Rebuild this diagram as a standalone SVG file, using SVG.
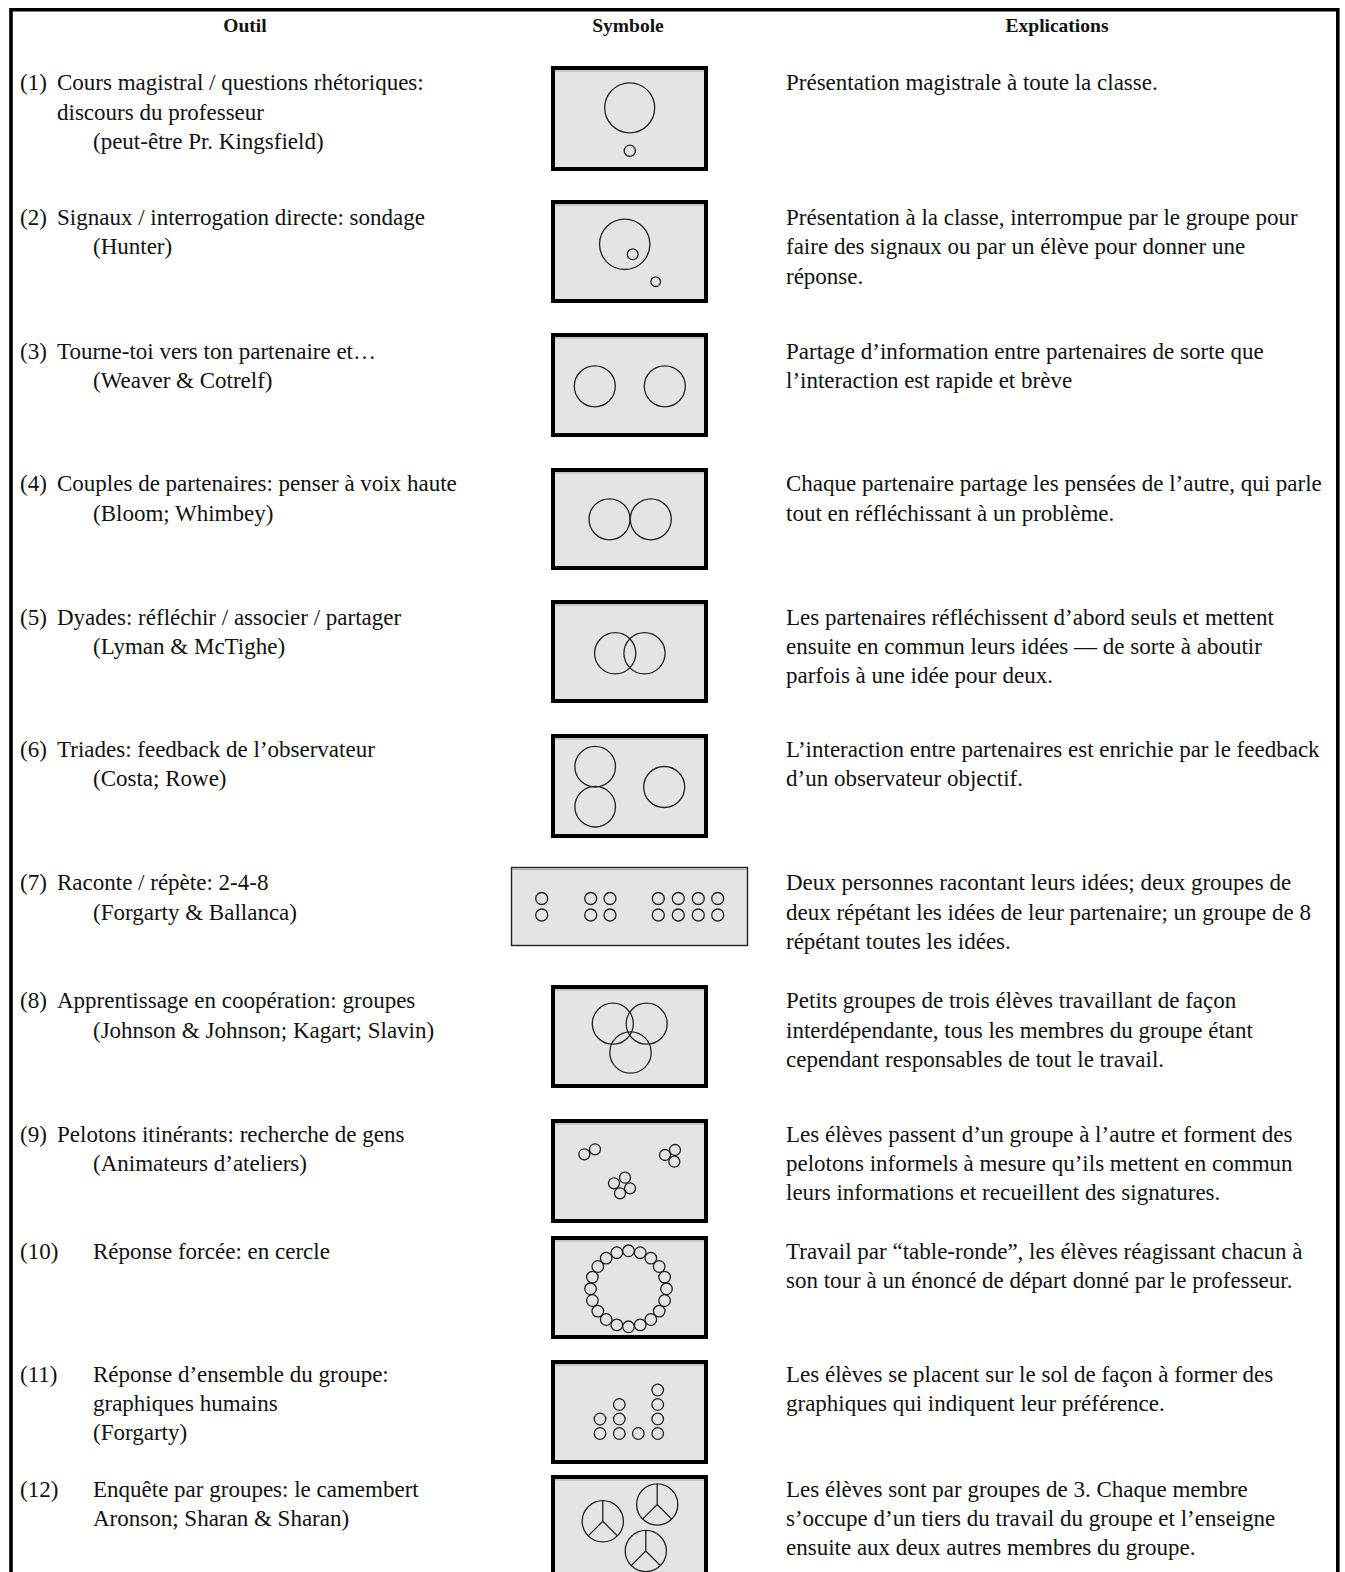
<svg xmlns="http://www.w3.org/2000/svg" width="1345" height="1572" viewBox="0 0 1345 1572">
<style>
text{font-family:"Liberation Serif","Times New Roman",serif;font-size:23px;fill:#111}
.h{font-weight:bold;font-size:19.5px;text-anchor:middle}
.box{fill:#e4e4e4;stroke:#000;stroke-width:4}
.thin{fill:#e4e4e4;stroke:#222;stroke-width:1.4}
.hl{stroke:#a8a8a8;stroke-width:1.2;fill:none}
.c{fill:none;stroke:#222;stroke-width:1.3}
</style>
<rect width="1345" height="1572" fill="#fff"/>
<path d="M11,1575 V9.8 H1337.8 V1575" fill="none" stroke="#000" stroke-width="3.6"/>
<g id="header">
<text class="h" x="245" y="32">Outil</text>
<text class="h" x="628" y="32">Symbole</text>
<text class="h" x="1057" y="32">Explications</text>
</g>
<g id="row1">
<text x="20" y="90">(1)</text>
<text x="57" y="90">Cours magistral / questions rhétoriques:</text>
<text x="57" y="120">discours du professeur</text>
<text x="93" y="149">(peut-être Pr. Kingsfield)</text>
<rect class="box" x="553" y="68" width="153" height="101"/><line class="hl" x1="555" y1="71" x2="704" y2="71"/>
<circle class="c" cx="629.7" cy="107.8" r="25"/>
<circle class="c" cx="629.8" cy="150.8" r="5.6"/>
<text x="786" y="90">Présentation magistrale à toute la classe.</text>
</g>
<g id="row2">
<text x="20" y="225">(2)</text>
<text x="57" y="225">Signaux / interrogation directe: sondage</text>
<text x="93" y="254">(Hunter)</text>
<rect class="box" x="553" y="202" width="153" height="99"/><line class="hl" x1="555" y1="205" x2="704" y2="205"/>
<circle class="c" cx="624.7" cy="244.3" r="25.2"/>
<circle class="c" cx="632.7" cy="254.3" r="5.4"/>
<circle class="c" cx="655.7" cy="281.7" r="4.8"/>
<text x="786" y="225">Présentation à la classe, interrompue par le groupe pour</text>
<text x="786" y="254">faire des signaux ou par un élève pour donner une</text>
<text x="786" y="284">réponse.</text>
</g>
<g id="row3">
<text x="20" y="359">(3)</text>
<text x="57" y="359">Tourne-toi vers ton partenaire et…</text>
<text x="93" y="388">(Weaver &amp; Cotrelf)</text>
<rect class="box" x="553" y="335" width="153" height="100"/><line class="hl" x1="555" y1="338" x2="704" y2="338"/>
<circle class="c" cx="594.8" cy="386.3" r="20.5"/>
<circle class="c" cx="664.8" cy="386.3" r="20.5"/>
<text x="786" y="359">Partage d’information entre partenaires de sorte que</text>
<text x="786" y="388">l’interaction est rapide et brève</text>
</g>
<g id="row4">
<text x="20" y="491">(4)</text>
<text x="57" y="491">Couples de partenaires: penser à voix haute</text>
<text x="93" y="521">(Bloom; Whimbey)</text>
<rect class="box" x="553" y="470" width="153" height="98"/><line class="hl" x1="555" y1="473" x2="704" y2="473"/>
<circle class="c" cx="609.5" cy="519.3" r="20.5"/>
<circle class="c" cx="650.8" cy="519.3" r="20.5"/>
<text x="786" y="491">Chaque partenaire partage les pensées de l’autre, qui parle</text>
<text x="786" y="521">tout en réfléchissant à un problème.</text>
</g>
<g id="row5">
<text x="20" y="625">(5)</text>
<text x="57" y="625">Dyades: réfléchir / associer / partager</text>
<text x="93" y="654">(Lyman &amp; McTighe)</text>
<rect class="box" x="553" y="602" width="153" height="99"/><line class="hl" x1="555" y1="605" x2="704" y2="605"/>
<circle class="c" cx="615.2" cy="653.3" r="20.6"/>
<circle class="c" cx="644.5" cy="653.3" r="20.6"/>
<text x="786" y="625">Les partenaires réfléchissent d’abord seuls et mettent</text>
<text x="786" y="654">ensuite en commun leurs idées — de sorte à aboutir</text>
<text x="786" y="683">parfois à une idée pour deux.</text>
</g>
<g id="row6">
<text x="20" y="757">(6)</text>
<text x="57" y="757">Triades: feedback de l’observateur</text>
<text x="93" y="786">(Costa; Rowe)</text>
<rect class="box" x="553" y="736" width="153" height="100"/><line class="hl" x1="555" y1="739" x2="704" y2="739"/>
<circle class="c" cx="595.2" cy="766.7" r="20.3"/>
<circle class="c" cx="595.2" cy="806.7" r="20.3"/>
<circle class="c" cx="664.2" cy="787" r="20.5"/>
<text x="786" y="757">L’interaction entre partenaires est enrichie par le feedback</text>
<text x="786" y="786">d’un observateur objectif.</text>
</g>
<g id="row7">
<text x="20" y="890">(7)</text>
<text x="57" y="890">Raconte / répète: 2-4-8</text>
<text x="93" y="920">(Forgarty &amp; Ballanca)</text>
<rect class="thin" x="511.5" y="867.5" width="236" height="78"/><line class="hl" x1="512" y1="869.5" x2="747" y2="869.5"/>
<g class="c">
<circle cx="541.7" cy="898.5" r="6"/><circle cx="541.7" cy="915" r="6"/>
<circle cx="590.7" cy="898.5" r="6"/><circle cx="590.7" cy="915" r="6"/>
<circle cx="610" cy="898.5" r="6"/><circle cx="610" cy="915" r="6"/>
<circle cx="658.3" cy="898.5" r="6"/><circle cx="658.3" cy="915" r="6"/>
<circle cx="678.3" cy="898.5" r="6"/><circle cx="678.3" cy="915" r="6"/>
<circle cx="698.3" cy="898.5" r="6"/><circle cx="698.3" cy="915" r="6"/>
<circle cx="717.7" cy="898.5" r="6"/><circle cx="717.7" cy="915" r="6"/>
</g>
<text x="786" y="890">Deux personnes racontant leurs idées; deux groupes de</text>
<text x="786" y="920">deux répétant les idées de leur partenaire; un groupe de 8</text>
<text x="786" y="949">répétant toutes les idées.</text>
</g>
<g id="row8">
<text x="20" y="1008">(8)</text>
<text x="57" y="1008">Apprentissage en coopération: groupes</text>
<text x="93" y="1038">(Johnson &amp; Johnson; Kagart; Slavin)</text>
<rect class="box" x="553" y="987" width="153" height="99"/><line class="hl" x1="555" y1="990" x2="704" y2="990"/>
<circle class="c" cx="612.8" cy="1023.7" r="20.5"/>
<circle class="c" cx="646.7" cy="1023.7" r="20.5"/>
<circle class="c" cx="630.5" cy="1052.5" r="20.7"/>
<text x="786" y="1008">Petits groupes de trois élèves travaillant de façon</text>
<text x="786" y="1038">interdépendante, tous les membres du groupe étant</text>
<text x="786" y="1067">cependant responsables de tout le travail.</text>
</g>
<g id="row9">
<text x="20" y="1142">(9)</text>
<text x="57" y="1142">Pelotons itinérants: recherche de gens</text>
<text x="93" y="1171">(Animateurs d’ateliers)</text>
<rect class="box" x="553" y="1121" width="153" height="100"/><line class="hl" x1="555" y1="1124" x2="704" y2="1124"/>
<g class="c">
<circle cx="584.3" cy="1154.3" r="5.5"/><circle cx="595" cy="1149.3" r="5.5"/>
<circle cx="665" cy="1155" r="5.5"/><circle cx="675" cy="1150" r="5.5"/><circle cx="674.3" cy="1161.7" r="5.5"/>
<circle cx="614" cy="1183.3" r="5.5"/><circle cx="625" cy="1177.7" r="5.5"/><circle cx="630" cy="1188.3" r="5.5"/><circle cx="620" cy="1193.3" r="5.5"/>
</g>
<text x="786" y="1142">Les élèves passent d’un groupe à l’autre et forment des</text>
<text x="786" y="1171">pelotons informels à mesure qu’ils mettent en commun</text>
<text x="786" y="1200">leurs informations et recueillent des signatures.</text>
</g>
<g id="row10">
<text x="20" y="1259">(10)</text>
<text x="93" y="1259">Réponse forcée: en cercle</text>
<rect class="box" x="553" y="1238" width="153" height="99"/><line class="hl" x1="555" y1="1241" x2="704" y2="1241"/>
<g class="c">
<circle cx="628.5" cy="1250.8" r="5.8"/>
<circle cx="640.2" cy="1252.7" r="5.8"/>
<circle cx="650.8" cy="1258.1" r="5.8"/>
<circle cx="659.2" cy="1266.5" r="5.8"/>
<circle cx="664.6" cy="1277.1" r="5.8"/>
<circle cx="666.5" cy="1288.8" r="5.8"/>
<circle cx="664.6" cy="1300.5" r="5.8"/>
<circle cx="659.2" cy="1311.1" r="5.8"/>
<circle cx="650.8" cy="1319.5" r="5.8"/>
<circle cx="640.2" cy="1324.9" r="5.8"/>
<circle cx="628.5" cy="1326.8" r="5.8"/>
<circle cx="616.8" cy="1324.9" r="5.8"/>
<circle cx="606.2" cy="1319.5" r="5.8"/>
<circle cx="597.8" cy="1311.1" r="5.8"/>
<circle cx="592.4" cy="1300.5" r="5.8"/>
<circle cx="590.5" cy="1288.8" r="5.8"/>
<circle cx="592.4" cy="1277.1" r="5.8"/>
<circle cx="597.8" cy="1266.5" r="5.8"/>
<circle cx="606.2" cy="1258.1" r="5.8"/>
<circle cx="616.8" cy="1252.7" r="5.8"/>
</g>
<text x="786" y="1259">Travail par “table-ronde”, les élèves réagissant chacun à</text>
<text x="786" y="1288">son tour à un énoncé de départ donné par le professeur.</text>
</g>
<g id="row11">
<text x="20" y="1382">(11)</text>
<text x="93" y="1382">Réponse d’ensemble du groupe:</text>
<text x="93" y="1411">graphiques humains</text>
<text x="93" y="1440">(Forgarty)</text>
<rect class="box" x="553" y="1362" width="153" height="100"/><line class="hl" x1="555" y1="1365" x2="704" y2="1365"/>
<g class="c">
<circle cx="600" cy="1419" r="5.8"/><circle cx="600" cy="1433.5" r="5.8"/>
<circle cx="619.3" cy="1404.5" r="5.8"/><circle cx="619.3" cy="1419" r="5.8"/><circle cx="619.3" cy="1433.5" r="5.8"/>
<circle cx="638.3" cy="1433.5" r="5.8"/>
<circle cx="657.7" cy="1390" r="5.8"/><circle cx="657.7" cy="1404.5" r="5.8"/><circle cx="657.7" cy="1419" r="5.8"/><circle cx="657.7" cy="1433.5" r="5.8"/>
</g>
<text x="786" y="1382">Les élèves se placent sur le sol de façon à former des</text>
<text x="786" y="1411">graphiques qui indiquent leur préférence.</text>
</g>
<g id="row12">
<text x="20" y="1497">(12)</text>
<text x="93" y="1497">Enquête par groupes: le camembert</text>
<text x="93" y="1526">Aronson; Sharan &amp; Sharan)</text>
<rect class="box" x="553" y="1477" width="153" height="120"/><line class="hl" x1="555" y1="1480" x2="704" y2="1480"/>
<g class="c">
<circle cx="602.8" cy="1521.3" r="20.6"/><path d="M602.8,1500.7 V1521.3 L588.2,1535.9 M602.8,1521.3 L617.4,1535.9"/>
<circle cx="657.2" cy="1504.5" r="20.6"/><path d="M657.2,1483.9 V1504.5 L642.6,1519.1 M657.2,1504.5 L671.8,1519.1"/>
<circle cx="645.8" cy="1551" r="20.6"/><path d="M645.8,1530.4 V1551 L631.2,1565.6 M645.8,1551 L660.4,1565.6"/>
</g>
<text x="786" y="1497">Les élèves sont par groupes de 3. Chaque membre</text>
<text x="786" y="1526">s’occupe d’un tiers du travail du groupe et l’enseigne</text>
<text x="786" y="1555">ensuite aux deux autres membres du groupe.</text>
</g>
</svg>
